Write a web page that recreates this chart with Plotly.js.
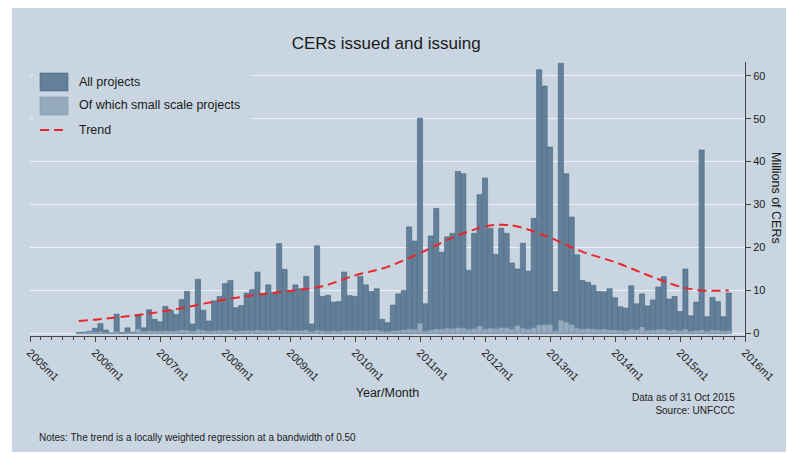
<!DOCTYPE html>
<html>
<head>
<meta charset="utf-8">
<script src="https://cdn.plot.ly/plotly-3.0.1.min.js"></script>
<style>html,body{margin:0;padding:0;background:#fff;}#chart{width:788px;height:454px;}</style>
</head>
<body>
<div id="chart"></div>
<script>
// Month index counted from 2005m1 (= 0); first data month is 2005m10
const firstMonth = 9;

// All projects, millions of CERs, 2005m10 .. 2015m10
const allProjects = [
  0.2, 0.3, 0.5,
  1.2, 2.3, 0.8, 0.1, 4.5, 0.2, 1.3, 0.3, 4.4, 1.3, 5.5, 3.3,
  2.7, 6.3, 5.4, 4.4, 7.9, 9.8, 2.2, 12.6, 5.4, 2.9, 7.6, 8.6,
  11.6, 12.3, 6.0, 6.5, 9.4, 10.2, 14.3, 9.2, 11.3, 9.5, 20.9, 14.9,
  10.0, 11.3, 10.4, 13.3, 2.2, 20.4, 8.6, 8.9, 7.3, 7.4, 14.3, 8.8,
  8.6, 13.3, 11.3, 9.8, 10.4, 3.3, 2.5, 6.6, 9.2, 10.0, 24.8, 21.5,
  50.1, 6.9, 22.7, 29.1, 18.9, 22.5, 23.3, 37.7, 37.2, 14.7, 23.3, 32.3,
  36.2, 24.5, 18.4, 24.5, 23.3, 16.4, 15.0, 21.0, 14.5, 26.8, 61.4, 57.6,
  43.4, 9.7, 62.9, 37.2, 27.1, 18.3, 12.3, 11.9, 11.2, 9.8, 9.7, 10.4,
  8.3, 6.2, 5.9, 11.1, 6.9, 9.2, 6.4, 7.8, 10.8, 13.2, 8.0, 8.6,
  5.1, 15.0, 4.1, 7.3, 42.7, 3.9, 8.4, 7.4, 3.9, 9.4
];

// Of which small scale projects
const smallScale = [
  0.1, 0.2, 0.3,
  0.3, 0.4, 0.2, 0.1, 0.4, 0.1, 0.3, 0.2, 1.0, 0.4, 0.6, 0.5,
  0.5, 0.6, 0.5, 0.6, 0.8, 0.7, 0.5, 0.9, 0.7, 0.5, 0.6, 0.7,
  0.6, 0.8, 0.5, 0.6, 0.7, 0.6, 0.8, 0.7, 0.7, 0.6, 0.8, 0.7,
  0.6, 0.7, 0.6, 0.8, 0.4, 0.7, 0.6, 0.5, 0.6, 0.5, 0.7, 0.6,
  0.6, 0.7, 0.6, 0.7, 0.8, 0.5, 0.4, 0.6, 0.7, 0.8, 1.0, 0.9,
  2.3, 0.5, 0.8, 1.0, 1.0, 1.2, 1.1, 1.3, 1.2, 0.9, 1.1, 1.7,
  1.0, 1.2, 1.1, 1.3, 1.3, 1.0, 1.8, 1.2, 1.0, 1.3, 1.9, 2.0,
  2.0, 0.6, 3.0, 2.6, 2.0, 1.2, 1.0, 1.1, 1.0, 0.9, 1.0, 0.8,
  0.8, 0.7, 0.6, 0.9, 0.8, 1.5, 0.7, 0.8, 0.9, 1.0, 0.7, 0.8,
  0.6, 0.9, 0.5, 0.7, 0.8, 0.5, 0.8, 0.7, 0.5, 0.6
];

// Trend (lowess) read at selected months (index from 2005m1)
const trendMonths = [9, 12, 18, 24, 30, 36, 42, 48, 54, 60, 66, 72, 78, 84, 87, 90, 96, 102, 108, 114, 120, 124, 129];
const trendValues = [2.9, 3.2, 4.0, 5.0, 6.4, 7.9, 9.0, 9.9, 11.0, 13.5, 15.5, 18.7, 22.3, 24.9, 25.3, 24.9, 22.3, 19.0, 16.6, 13.6, 10.9, 10.0, 10.0];

// Axis ticks
const xTickVals = [0, 12, 24, 36, 48, 60, 72, 84, 96, 108, 120, 132];
const xTickText = ["2005m1", "2006m1", "2007m1", "2008m1", "2009m1", "2010m1", "2011m1", "2012m1", "2013m1", "2014m1", "2015m1", "2016m1"];
const yTickVals = [0, 10, 20, 30, 40, 50, 60];

// Legend labels
const legendLabels = ["All projects", "Of which small scale projects", "Trend"];

const months = allProjects.map((_, i) => firstMonth + i);

const bg = '#c9d5e0';
const darkBar = '#62809a', darkEdge = '#4c677e';
const lightBar = '#95aabd', lightEdge = '#7f97ab';
const trendColor = '#e8272b';
const font = 'Liberation Sans, Arial, sans-serif';

const traces = [
  {
    type: 'bar', name: legendLabels[0], x: months, y: allProjects,
    marker: {color: darkBar, line: {color: darkEdge, width: 0.6}},
    width: 0.95, hoverinfo: 'skip'
  },
  {
    type: 'bar', name: legendLabels[1], x: months, y: smallScale,
    marker: {color: lightBar, line: {color: lightEdge, width: 0.4}},
    width: 0.95, hoverinfo: 'skip'
  },
  {
    type: 'scatter', mode: 'lines', name: legendLabels[2], x: trendMonths, y: trendValues,
    line: {color: trendColor, width: 2, dash: '9px,5px', shape: 'spline', smoothing: 1},
    hoverinfo: 'skip'
  }
];

// pixel -> paper helpers for the legend keys (plot area: x 30..745, y 62..336)
const px = v => (v - 30) / 715;
const py = v => (336 - v) / 274;

const legendShapes = [
  {type: 'rect', xref: 'paper', yref: 'paper', x0: px(33), x1: px(251), y0: py(142), y1: py(66),
   fillcolor: bg, line: {width: 0}},
  {type: 'rect', xref: 'paper', yref: 'paper', x0: px(40), x1: px(68), y0: py(91), y1: py(73),
   fillcolor: darkBar, line: {color: darkEdge, width: 0.6}},
  {type: 'rect', xref: 'paper', yref: 'paper', x0: px(40), x1: px(68), y0: py(115), y1: py(97),
   fillcolor: lightBar, line: {color: lightEdge, width: 0.6}},
  {type: 'line', xref: 'paper', yref: 'paper', x0: px(40), x1: px(68), y0: py(130), y1: py(130),
   line: {color: trendColor, width: 2, dash: '9px,5px'}}
];
const legendText = [82, 105, 130].map((yy, i) => ({
  text: legendLabels[i], xref: 'paper', yref: 'paper', x: px(77), y: py(yy),
  xanchor: 'left', yanchor: 'middle', showarrow: false,
  font: {family: font, size: 12.5, color: '#1a1a1a'}
}));

const layout = {
  width: 788, height: 454,
  margin: {l: 30, r: 43, t: 62, b: 118},
  paper_bgcolor: '#ffffff',
  plot_bgcolor: 'rgba(0,0,0,0)',
  barmode: 'overlay',
  font: {family: font, color: '#222', size: 11},
  title: {text: 'CERs issued and issuing', font: {family: font, size: 17, color: '#1a1a1a'}, x: 0.49, xanchor: 'center', y: 0.905, yanchor: 'middle'},
  showlegend: false,
  xaxis: {
    range: [0, 132], tickmode: 'array', tickvals: xTickVals, ticktext: xTickText,
    tickangle: 45, ticks: 'outside', ticklen: 5, tickcolor: '#444', tickwidth: 1,
    showline: true, linecolor: '#444', linewidth: 1, showgrid: false, zeroline: false,
    tickfont: {family: font, size: 11, color: '#222'},
    minor: {dtick: 2, tick0: 0, ticks: 'outside', ticklen: 3, tickcolor: '#444', showgrid: false},
    title: {text: 'Year/Month', font: {family: font, size: 12.5, color: '#1a1a1a'}, standoff: 6}
  },
  yaxis: {
    side: 'right', range: [-0.6, 63.2], tickmode: 'array', tickvals: yTickVals,
    ticks: 'outside', ticklen: 5, tickcolor: '#444', showline: true, linecolor: '#444', linewidth: 1,
    showgrid: true, gridcolor: '#eef2f6', gridwidth: 1.3, zeroline: false,
    tickfont: {family: font, size: 11, color: '#222'}
  },
  shapes: [
    {type: 'rect', xref: 'paper', yref: 'paper', x0: px(12), x1: px(786), y0: py(452), y1: py(8),
     fillcolor: bg, line: {width: 0}, layer: 'below'}
  ].concat(legendShapes),
  annotations: [
    {text: 'Millions of CERs', xref: 'paper', yref: 'paper', x: px(776), y: py(198), textangle: 90,
     xanchor: 'center', yanchor: 'middle',
     showarrow: false, font: {family: font, size: 12.5, color: '#1a1a1a'}},
    {text: 'Data as of 31 Oct 2015<br>Source: UNFCCC', xref: 'paper', yref: 'paper', x: px(737), y: py(390),
     xanchor: 'right', yanchor: 'top', align: 'right', showarrow: false,
     font: {family: font, size: 10, color: '#222'}},
    {text: 'Notes: The trend is a locally weighted regression at a bandwidth of 0.50', xref: 'paper', yref: 'paper',
     x: px(37), y: py(437), xanchor: 'left', yanchor: 'middle', align: 'left', showarrow: false,
     font: {family: font, size: 10, color: '#222'}}
  ].concat(legendText)
};

Plotly.newPlot('chart', traces, layout, {displayModeBar: false, staticPlot: true});
</script>
</body>
</html>
